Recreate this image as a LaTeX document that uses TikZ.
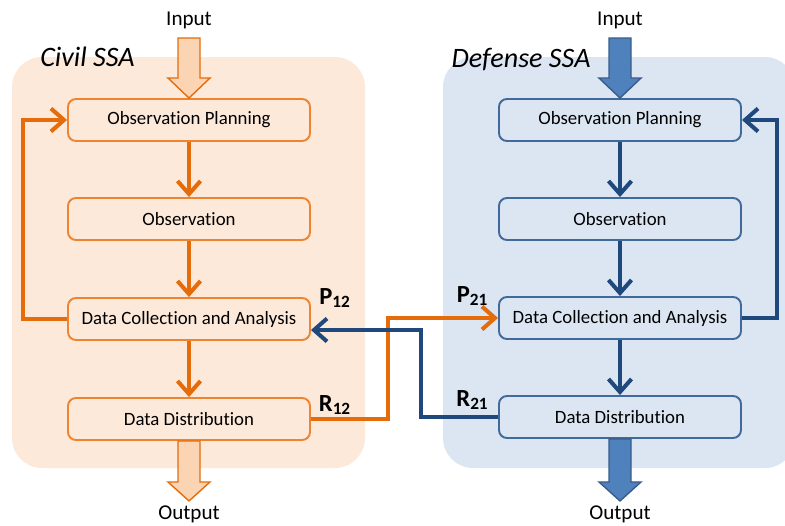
\documentclass[tikz,border=0pt]{standalone}
\usepackage{fontspec}
\setmainfont{Carlito}[Ligatures=NoCommon]
\usepackage{tikz}
\usetikzlibrary{arrows.meta,positioning}
\definecolor{civfill}{HTML}{FDE9D9}
\definecolor{civline}{HTML}{E46C0A}
\definecolor{civbox}{HTML}{EE8431}
\definecolor{civblk}{HTML}{FBD4B4}
\definecolor{deffill}{HTML}{DCE6F2}
\definecolor{defline}{HTML}{1F497D}
\definecolor{defbox}{HTML}{41699A}
\definecolor{defblk}{HTML}{4F81BD}
\definecolor{defblkline}{HTML}{385D8A}
\begin{document}
\begin{tikzpicture}[
  panel/.style={rounded corners=0.6cm, draw=none},
  stage/.style={draw, rounded corners=0.16cm, line width=1.1pt, minimum width=4.84cm, minimum height=0.84cm, align=center, font=\fontsize{10.7}{12}\selectfont, inner sep=0pt},
  civstage/.style={stage, draw=civbox, fill=civfill},
  defstage/.style={stage, draw=defbox, fill=deffill},
  flow/.style={-{Straight Barb[length=2.6mm,width=4.6mm]}, line width=2.3pt},
  civflow/.style={flow, draw=civline},
  defflow/.style={flow, draw=defline},
  blk/.style={line width=0.8pt, line join=miter},
  civblkarrow/.style={blk, draw=civline, fill=civblk},
  defblkarrow/.style={blk, draw=defblkline, fill=defblk},
  io/.style={font=\fontsize{12}{14}\selectfont},
  title/.style={font=\fontsize{16}{18}\selectfont\itshape},
  lab/.style={font=\fontsize{14}{16}\selectfont\bfseries}
]
\useasboundingbox (0,0) rectangle (15.7,-10.5);
\fill[panel, civfill] (0.24,-1.14) rectangle (7.3,-9.36);
\fill[panel, deffill] (8.86,-1.14) rectangle (15.9,-9.36);
\node[title] (civT) at (1.75,-1.14) {Civil SSA};
\node[title] (defT) at (10.42,-1.2) {Defense SSA};
\node[civstage] (opL) at (3.78,-2.4) {Observation Planning};
\node[civstage] (obL) at (3.78,-4.38) {Observation};
\node[civstage] (dcL) at (3.78,-6.38) {Data Collection and Analysis};
\node[civstage] (ddL) at (3.78,-8.38) {Data Distribution};
\node[defstage] (opR) at (12.4,-2.4) {Observation Planning};
\node[defstage] (obR) at (12.4,-4.38) {Observation};
\node[defstage] (dcR) at (12.4,-6.36) {Data Collection and Analysis};
\node[defstage] (ddR) at (12.4,-8.34) {Data Distribution};
\node[io] (inL) at (3.78,-0.4) {Input};
\node[io] (outL) at (3.78,-10.28) {Output};
\node[io] (inR) at (12.4,-0.4) {Input};
\node[io] (outR) at (12.4,-10.28) {Output};
\draw[civblkarrow] (opL.north) -- ++(-0.42,0.4) -- ++(0.2,0) -- ++(0,0.8) -- ++(0.44,0) -- ++(0,-0.8) -- ++(0.2,0) -- cycle;
\draw[defblkarrow] (opR.north) -- ++(-0.42,0.4) -- ++(0.2,0) -- ++(0,0.8) -- ++(0.44,0) -- ++(0,-0.8) -- ++(0.2,0) -- cycle;
\draw[civblkarrow] (ddL.south) ++(-0.22,0) -- ++(0,-0.82) -- ++(-0.2,0) -- ++(0.42,-0.38) -- ++(0.42,0.38) -- ++(-0.2,0) -- ++(0,0.82) -- cycle;
\draw[defblkarrow] (ddR.south) ++(-0.22,0) -- ++(0,-0.86) -- ++(-0.2,0) -- ++(0.42,-0.38) -- ++(0.42,0.38) -- ++(-0.2,0) -- ++(0,0.86) -- cycle;
\foreach \a/\b in {opL/obL,obL/dcL,dcL/ddL}
  \draw[civflow] (\a.south) -- (\b.north);
\foreach \a/\b in {opR/obR,obR/dcR,dcR/ddR}
  \draw[defflow] (\a.south) -- (\b.north);
\draw[civflow] (dcL.west) -- ++(-0.88,0) |- (opL.west);
\draw[defflow] (dcR.east) -- ++(0.7,0) |- (opR.east);
\draw[civflow] (ddL.east) -- ++(1.54,0) |- (dcR.west);
\draw[defflow] (ddR.west) -- ++(-1.54,0) |- ([yshift=-0.22cm]dcL.east);
\node[lab] (p12) at (6.7,-5.96) {P\textsubscript{12}};
\node[lab] (r12) at (6.7,-8.1) {R\textsubscript{12}};
\node[lab] (p21) at (9.45,-5.92) {P\textsubscript{21}};
\node[lab] (r21) at (9.45,-8.0) {R\textsubscript{21}};
\end{tikzpicture}
\end{document}
